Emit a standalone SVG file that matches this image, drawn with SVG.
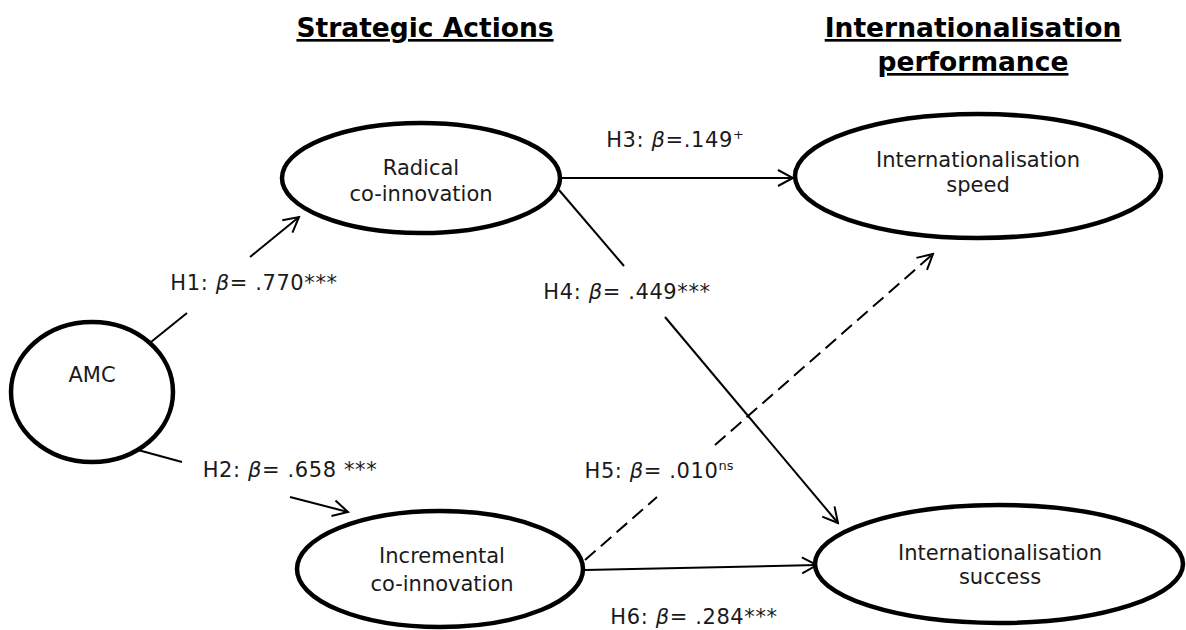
<svg xmlns="http://www.w3.org/2000/svg" width="1186" height="630" viewBox="0 0 1186 630">
<style>
  .node ellipse { fill: #fff; stroke: #000; stroke-width: 4.5; }
  .nt { font-family: "DejaVu Sans", Verdana, sans-serif; font-size: 21px; fill: #1a1a1a; text-anchor: middle; }
  .lbl { font-family: "DejaVu Sans", Verdana, sans-serif; font-size: 21px; letter-spacing: 0.6px; fill: #1a1a1a; text-anchor: middle; }
  .hd { font-family: "DejaVu Sans", Tahoma, sans-serif; font-size: 26.5px; font-weight: bold; fill: #000; text-anchor: middle; text-decoration: underline; }
  .edge { stroke: #000; stroke-width: 2; fill: none; }
  .dash { stroke-dasharray: 14 7; }
  .sup { font-size: 13px; letter-spacing: 0; }
</style>
<defs>
  <marker id="arr" viewBox="-17 -10 19 20" refX="0" refY="0" markerWidth="19" markerHeight="20" orient="auto" markerUnits="userSpaceOnUse">
    <path d="M-15,-8 L0,0 L-15,8" fill="none" stroke="#000" stroke-width="2" stroke-dasharray="none"/>
  </marker>
</defs>
<rect width="1186" height="630" fill="#fff"/>

<g id="headings">
  <text class="hd" x="425" y="37">Strategic Actions</text>
  <text class="hd" x="973" y="37">Internationalisation</text>
  <text class="hd" x="973" y="71">performance</text>
</g>

<g id="connectors">
  <!-- H1 -->
  <line class="edge" x1="151" y1="342" x2="187" y2="313"/>
  <line class="edge" x1="250" y1="257" x2="299" y2="217" marker-end="url(#arr)"/>
  <!-- H2 -->
  <line class="edge" x1="138" y1="450" x2="182" y2="462"/>
  <line class="edge" x1="290" y1="497" x2="348" y2="512" marker-end="url(#arr)"/>
  <!-- H3 -->
  <line class="edge" x1="560" y1="178" x2="793" y2="178" marker-end="url(#arr)"/>
  <!-- H4 -->
  <line class="edge" x1="559" y1="190" x2="624" y2="266"/>
  <line class="edge" x1="665" y1="317" x2="838" y2="523" marker-end="url(#arr)"/>
  <!-- H5 -->
  <line class="edge dash" x1="585" y1="560" x2="657" y2="497"/>
  <line class="edge dash" x1="715" y1="445" x2="933" y2="254" marker-end="url(#arr)"/>
  <!-- H6 -->
  <line class="edge" x1="585" y1="570" x2="817" y2="565" marker-end="url(#arr)"/>
</g>

<g id="labels">
  <text class="lbl" x="254" y="290">H1: <tspan font-style="italic">β</tspan>= .770***</text>
  <text class="lbl" x="290" y="477">H2: <tspan font-style="italic">β</tspan>= .658 ***</text>
  <text class="lbl" x="675" y="147">H3: <tspan font-style="italic">β</tspan>=.149<tspan class="sup" dy="-8">+</tspan></text>
  <text class="lbl" x="627" y="299">H4: <tspan font-style="italic">β</tspan>= .449***</text>
  <text class="lbl" x="659" y="478">H5: <tspan font-style="italic">β</tspan>= .010<tspan class="sup" dy="-8">ns</tspan></text>
  <text class="lbl" x="694" y="624">H6: <tspan font-style="italic">β</tspan>= .284***</text>
</g>

<g id="amc" class="node">
  <ellipse cx="92" cy="392" rx="81" ry="70"/>
  <text class="nt" x="92" y="382">AMC</text>
</g>
<g id="radical" class="node">
  <ellipse cx="421" cy="178" rx="139" ry="55"/>
  <text class="nt" x="421" y="175">Radical</text>
  <text class="nt" x="421" y="201">co-innovation</text>
</g>
<g id="incremental" class="node">
  <ellipse cx="440" cy="569" rx="143" ry="58"/>
  <text class="nt" x="442" y="563">Incremental</text>
  <text class="nt" x="442" y="591">co-innovation</text>
</g>
<g id="speed" class="node">
  <ellipse cx="978" cy="176" rx="183" ry="62"/>
  <text class="nt" x="978" y="167">Internationalisation</text>
  <text class="nt" x="978" y="192">speed</text>
</g>
<g id="success" class="node">
  <ellipse cx="999" cy="564" rx="184" ry="59"/>
  <text class="nt" x="1000" y="560">Internationalisation</text>
  <text class="nt" x="1000" y="584">success</text>
</g>
</svg>
